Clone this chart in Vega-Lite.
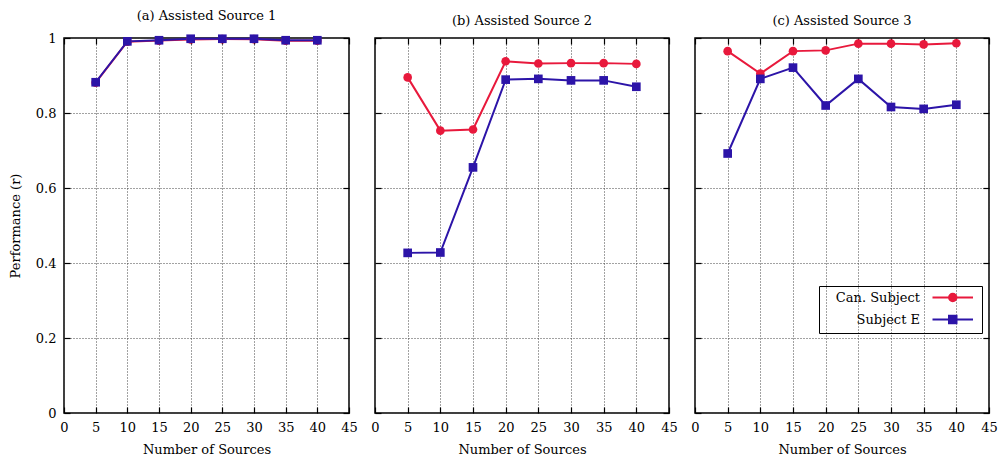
{
  "$schema": "https://vega.github.io/schema/vega-lite/v6.json",
  "background": "white",
  "padding": {"left": 8, "top": 8, "right": 0, "bottom": 0},
  "datasets": {
    "perf": [
      {"panel": "a", "series": "Can. Subject", "n": 5, "r": 0.881},
      {"panel": "a", "series": "Can. Subject", "n": 10, "r": 0.990},
      {"panel": "a", "series": "Can. Subject", "n": 15, "r": 0.993},
      {"panel": "a", "series": "Can. Subject", "n": 20, "r": 0.996},
      {"panel": "a", "series": "Can. Subject", "n": 25, "r": 0.997},
      {"panel": "a", "series": "Can. Subject", "n": 30, "r": 0.997},
      {"panel": "a", "series": "Can. Subject", "n": 35, "r": 0.993},
      {"panel": "a", "series": "Can. Subject", "n": 40, "r": 0.993},
      {"panel": "a", "series": "Subject E", "n": 5, "r": 0.882},
      {"panel": "a", "series": "Subject E", "n": 10, "r": 0.991},
      {"panel": "a", "series": "Subject E", "n": 15, "r": 0.994},
      {"panel": "a", "series": "Subject E", "n": 20, "r": 0.998},
      {"panel": "a", "series": "Subject E", "n": 25, "r": 0.998},
      {"panel": "a", "series": "Subject E", "n": 30, "r": 0.998},
      {"panel": "a", "series": "Subject E", "n": 35, "r": 0.994},
      {"panel": "a", "series": "Subject E", "n": 40, "r": 0.994},
      {"panel": "b", "series": "Can. Subject", "n": 5, "r": 0.895},
      {"panel": "b", "series": "Can. Subject", "n": 10, "r": 0.753},
      {"panel": "b", "series": "Can. Subject", "n": 15, "r": 0.756},
      {"panel": "b", "series": "Can. Subject", "n": 20, "r": 0.938},
      {"panel": "b", "series": "Can. Subject", "n": 25, "r": 0.932},
      {"panel": "b", "series": "Can. Subject", "n": 30, "r": 0.933},
      {"panel": "b", "series": "Can. Subject", "n": 35, "r": 0.933},
      {"panel": "b", "series": "Can. Subject", "n": 40, "r": 0.931},
      {"panel": "b", "series": "Subject E", "n": 5, "r": 0.427},
      {"panel": "b", "series": "Subject E", "n": 10, "r": 0.428},
      {"panel": "b", "series": "Subject E", "n": 15, "r": 0.655},
      {"panel": "b", "series": "Subject E", "n": 20, "r": 0.889},
      {"panel": "b", "series": "Subject E", "n": 25, "r": 0.891},
      {"panel": "b", "series": "Subject E", "n": 30, "r": 0.887},
      {"panel": "b", "series": "Subject E", "n": 35, "r": 0.887},
      {"panel": "b", "series": "Subject E", "n": 40, "r": 0.870},
      {"panel": "c", "series": "Can. Subject", "n": 5, "r": 0.965},
      {"panel": "c", "series": "Can. Subject", "n": 10, "r": 0.905},
      {"panel": "c", "series": "Can. Subject", "n": 15, "r": 0.965},
      {"panel": "c", "series": "Can. Subject", "n": 20, "r": 0.967},
      {"panel": "c", "series": "Can. Subject", "n": 25, "r": 0.985},
      {"panel": "c", "series": "Can. Subject", "n": 30, "r": 0.985},
      {"panel": "c", "series": "Can. Subject", "n": 35, "r": 0.983},
      {"panel": "c", "series": "Can. Subject", "n": 40, "r": 0.986},
      {"panel": "c", "series": "Subject E", "n": 5, "r": 0.692},
      {"panel": "c", "series": "Subject E", "n": 10, "r": 0.891},
      {"panel": "c", "series": "Subject E", "n": 15, "r": 0.921},
      {"panel": "c", "series": "Subject E", "n": 20, "r": 0.820},
      {"panel": "c", "series": "Subject E", "n": 25, "r": 0.891},
      {"panel": "c", "series": "Subject E", "n": 30, "r": 0.816},
      {"panel": "c", "series": "Subject E", "n": 35, "r": 0.811},
      {"panel": "c", "series": "Subject E", "n": 40, "r": 0.822}
    ]
  },
  "data": {"name": "perf"},
  "hconcat": [
    {
      "title": "(a) Assisted Source 1",
      "width": 285,
      "height": 375,
      "transform": [{"filter": "datum.panel == 'a'"}],
      "layer": [
        {
          "encoding": {
            "x": {"field": "n", "type": "quantitative", "scale": {"domain": [0, 45], "nice": false},
                  "axis": {"values": [0, 5, 10, 15, 20, 25, 30, 35, 40, 45], "title": "Number of Sources"}},
            "y": {"field": "r", "type": "quantitative", "scale": {"domain": [0, 1], "nice": false},
                  "axis": {"values": [0, 0.2, 0.4, 0.6, 0.8, 1], "format": "~g", "title": "Performance (r)", "titlePadding": 13}},
            "color": {"field": "series", "type": "nominal",
                      "scale": {"domain": ["Can. Subject", "Subject E"], "range": ["#e8193c", "#2c14a8"]}, "legend": null}
          },
          "layer": [
            {"mark": {"type": "line", "strokeWidth": 2}},
            {"mark": {"type": "point", "filled": true, "opacity": 1, "size": 75},
             "encoding": {"shape": {"field": "series", "type": "nominal",
                                    "scale": {"domain": ["Can. Subject", "Subject E"], "range": ["circle", "square"]}, "legend": null}}}
          ]
        },
        {"mark": {"type": "point", "opacity": 0},
         "encoding": {
           "x": {"field": "n", "type": "quantitative", "scale": {"domain": [0, 45], "nice": false},
                 "axis": {"orient": "top", "values": [0, 5, 10, 15, 20, 25, 30, 35, 40, 45], "labels": false, "grid": false, "title": null}},
           "y": {"field": "r", "type": "quantitative", "scale": {"domain": [0, 1], "nice": false},
                 "axis": {"orient": "right", "values": [0, 0.2, 0.4, 0.6, 0.8, 1], "labels": false, "grid": false, "title": null}}
         }}
      ],
      "resolve": {"scale": {"x": "independent", "y": "independent"}}
    },
    {
      "title": "(b) Assisted Source 2",
      "width": 294,
      "height": 375,
      "transform": [{"filter": "datum.panel == 'b'"}],
      "layer": [
        {
          "encoding": {
            "x": {"field": "n", "type": "quantitative", "scale": {"domain": [0, 45], "nice": false},
                  "axis": {"values": [0, 5, 10, 15, 20, 25, 30, 35, 40, 45], "title": "Number of Sources"}},
            "y": {"field": "r", "type": "quantitative", "scale": {"domain": [0, 1], "nice": false},
                  "axis": {"values": [0, 0.2, 0.4, 0.6, 0.8, 1], "labels": false, "title": null}},
            "color": {"field": "series", "type": "nominal",
                      "scale": {"domain": ["Can. Subject", "Subject E"], "range": ["#e8193c", "#2c14a8"]}, "legend": null}
          },
          "layer": [
            {"mark": {"type": "line", "strokeWidth": 2}},
            {"mark": {"type": "point", "filled": true, "opacity": 1, "size": 75},
             "encoding": {"shape": {"field": "series", "type": "nominal",
                                    "scale": {"domain": ["Can. Subject", "Subject E"], "range": ["circle", "square"]}, "legend": null}}}
          ]
        },
        {"mark": {"type": "point", "opacity": 0},
         "encoding": {
           "x": {"field": "n", "type": "quantitative", "scale": {"domain": [0, 45], "nice": false},
                 "axis": {"orient": "top", "values": [0, 5, 10, 15, 20, 25, 30, 35, 40, 45], "labels": false, "grid": false, "title": null}},
           "y": {"field": "r", "type": "quantitative", "scale": {"domain": [0, 1], "nice": false},
                 "axis": {"orient": "right", "values": [0, 0.2, 0.4, 0.6, 0.8, 1], "labels": false, "grid": false, "title": null}}
         }}
      ],
      "resolve": {"scale": {"x": "independent", "y": "independent"}}
    },
    {
      "title": "(c) Assisted Source 3",
      "width": 294,
      "height": 375,
      "transform": [{"filter": "datum.panel == 'c'"}],
      "layer": [
        {
          "encoding": {
            "x": {"field": "n", "type": "quantitative", "scale": {"domain": [0, 45], "nice": false},
                  "axis": {"values": [0, 5, 10, 15, 20, 25, 30, 35, 40, 45], "title": "Number of Sources"}},
            "y": {"field": "r", "type": "quantitative", "scale": {"domain": [0, 1], "nice": false},
                  "axis": {"values": [0, 0.2, 0.4, 0.6, 0.8, 1], "labels": false, "title": null}},
            "color": {"field": "series", "type": "nominal",
                      "scale": {"domain": ["Can. Subject", "Subject E"], "range": ["#e8193c", "#2c14a8"]}, "legend": null}
          },
          "layer": [
            {"mark": {"type": "line", "strokeWidth": 2}},
            {"mark": {"type": "point", "filled": true, "opacity": 1, "size": 75},
             "encoding": {"shape": {"field": "series", "type": "nominal",
                                    "scale": {"domain": ["Can. Subject", "Subject E"], "range": ["circle", "square"]}, "legend": null}}}
          ]
        },
        {"mark": {"type": "point", "opacity": 0},
         "encoding": {
           "x": {"field": "n", "type": "quantitative", "scale": {"domain": [0, 45], "nice": false},
                 "axis": {"orient": "top", "values": [0, 5, 10, 15, 20, 25, 30, 35, 40, 45], "labels": false, "grid": false, "title": null}},
           "y": {"field": "r", "type": "quantitative", "scale": {"domain": [0, 1], "nice": false},
                 "axis": {"orient": "right", "values": [0, 0.2, 0.4, 0.6, 0.8, 1], "labels": false, "grid": false, "title": null}}
         }},
        {"transform": [{"filter": "datum.series == 'key'"}],
         "mark": {"type": "point", "strokeWidth": 2, "opacity": 1},
         "encoding": {
           "fill": {"field": "series", "type": "nominal",
                    "scale": {"domain": ["Can. Subject", "Subject E"], "range": ["#e8193c", "#2c14a8"]},
                    "legend": {"orient": "none", "legendX": 124, "legendY": 248, "title": null,
                               "symbolSize": 100, "symbolStrokeWidth": 2, "symbolOpacity": 1,
                               "labelAlign": "right", "labelOffset": 83,
                               "labelFontSize": 13, "labelColor": "black",
                               "strokeColor": "black", "padding": 5, "rowPadding": 5}},
           "stroke": {"field": "series", "type": "nominal",
                      "scale": {"domain": ["Can. Subject", "Subject E"], "range": ["#e8193c", "#2c14a8"]},
                      "legend": {"orient": "none", "legendX": 124, "legendY": 248, "title": null,
                               "symbolSize": 100, "symbolStrokeWidth": 2, "symbolOpacity": 1,
                               "labelAlign": "right", "labelOffset": 83,
                               "labelFontSize": 13, "labelColor": "black",
                               "strokeColor": "black", "padding": 5, "rowPadding": 5}},
           "shape": {"field": "series", "type": "nominal",
                     "scale": {"domain": ["Can. Subject", "Subject E"],
                               "range": ["M20.4,0L28.5,0M25.2,0A0.75,0.75,0,1,1,23.7,0A0.75,0.75,0,1,1,25.2,0Z",
                                         "M20.4,0L28.5,0M23.7,-0.75L25.2,-0.75L25.2,0.75L23.7,0.75Z"]},
                     "legend": {"orient": "none", "legendX": 124, "legendY": 248, "title": null,
                               "symbolSize": 100, "symbolStrokeWidth": 2, "symbolOpacity": 1,
                               "labelAlign": "right", "labelOffset": 83,
                               "labelFontSize": 13, "labelColor": "black",
                               "strokeColor": "black", "padding": 5, "rowPadding": 5}}
         }}
      ],
      "resolve": {"scale": {"x": "independent", "y": "independent", "shape": "independent", "fill": "independent", "stroke": "independent"}}
    }
  ],
  "config": {
    "font": "DejaVu Serif",
    "concat": {"spacing": 11},
    "view": {"stroke": "black", "strokeWidth": 1.5},
    "title": {"font": "DejaVu Serif", "fontSize": 13, "fontWeight": "normal", "color": "black", "frame": "group", "offset": 9.5},
    "legend": {"labelFont": "DejaVu Serif"},
    "axis": {
      "labelFont": "DejaVu Serif", "labelFontSize": 13, "labelColor": "black", "labelFlush": false,
      "titleFont": "DejaVu Serif", "titleFontSize": 13, "titleFontWeight": "normal", "titleColor": "black",
      "domain": false, "tickColor": "black", "tickSize": -6, "tickWidth": 1.2,
      "labelPadding": 14, "titlePadding": 9,
      "gridColor": "#444", "gridDash": [1, 2], "gridWidth": 1, "gridOpacity": 1
    }
  }
}
